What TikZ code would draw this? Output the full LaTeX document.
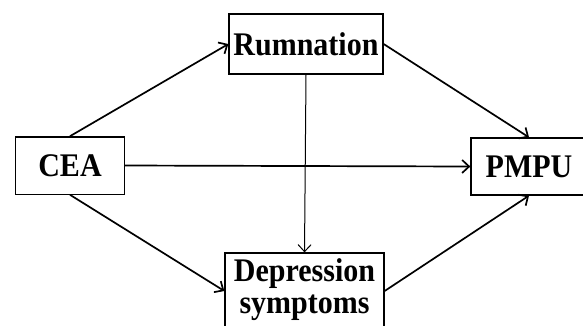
\documentclass[tikz,border=0pt]{standalone}
\usepackage{fontspec}
\setmainfont{Liberation Serif}
\usetikzlibrary{arrows.meta}
\newcommand{\talltext}[1]{\scalebox{1}[1.1]{#1}}
\begin{document}
\begin{tikzpicture}[x=1pt,y=-1pt,
  box/.style={draw, line width=1.3pt, inner sep=0pt, font=\fontsize{30}{29.5}\selectfont\bfseries, align=center},
  link/.style={line width=1.7pt, -{Straight Barb[length=7pt,width=13pt,line width=1.7pt]}},
  thinlink/.style={line width=1pt, -{Straight Barb[length=7pt,width=13pt,line width=1pt]}}]
\useasboundingbox (0,0) rectangle (583,325);
\node[box, minimum width=154pt, minimum height=60pt] (rum) at (306,44) {\talltext{Rumnation}};
\node[box, minimum width=108.6pt, minimum height=57.3pt] (cea) at (70,165.5) {\talltext{CEA}};
\node[box, minimum width=116pt, minimum height=57pt] (pmpu) at (529,166.5) {\talltext{PMPU}};
\node[box, minimum width=159pt, minimum height=76pt] (dep) at (304.5,291) {\talltext{\begin{tabular}{@{}c@{}}Depression\\symptoms\end{tabular}}};
\draw[link] (cea.north) -- (rum.west);
\draw[link] (rum.east) -- (pmpu.north);
\draw[link] (cea.south) -- (dep.west);
\draw[link] (dep.east) -- (pmpu.south);
\draw[link] (cea.east) -- (pmpu.west);
\draw[thinlink] (rum.south) -- (dep.north);
\end{tikzpicture}
\end{document}
